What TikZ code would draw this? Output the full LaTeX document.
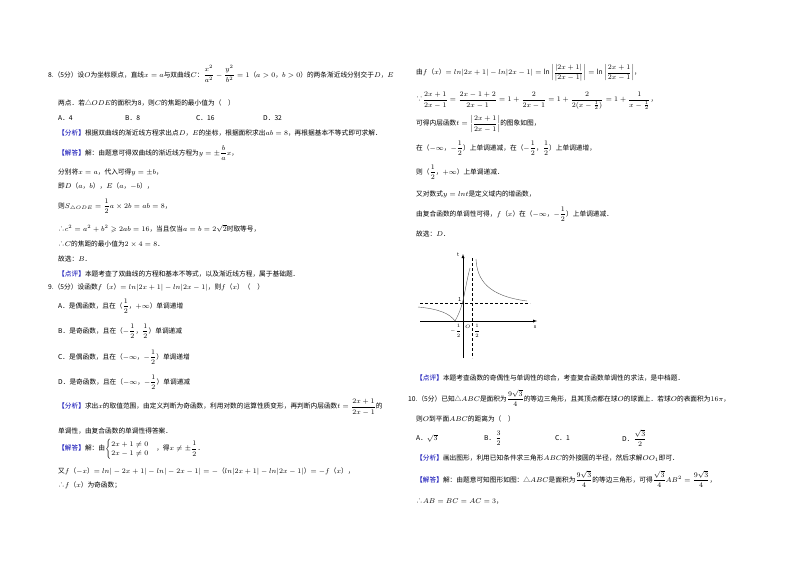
\documentclass[tikz,border=0pt]{standalone}
\usepackage{fontspec}
\usepackage{amsmath,amssymb}
\setmainfont{Noto Sans CJK SC}
\newcommand{\qf}[2]{\dfrac{#1}{#2}}
\begin{document}
\begin{tikzpicture}[x=1pt,y=-1pt,
  t/.style={anchor=west,inner sep=0pt,font=\fontsize{6.7}{8}\selectfont}]
\useasboundingbox[fill=white] (0,0) rectangle (800,565);
% left column
\node[t] (l1) at (48,74) {8.（5分）设$O$为坐标原点，直线$x=a$与双曲线$C$：$\qf{x^2}{a^2}-\qf{y^2}{b^2}=1$（$a>0$，$b>0$）的两条渐近线分别交于$D$，$E$};
\node[t] (l2) at (58,103) {两点．若△$ODE$的面积为8，则$C$的焦距的最小值为（\quad ）};
\node[t] (l3a) at (58,118) {A．4};
\node[t] (l3b) at (125,118) {B．8};
\node[t] (l3c) at (196,118) {C．16};
\node[t] (l3d) at (263,118) {D．32};
\node[t] (l4) at (58,133) {{\color{blue!70!black}【分析】}根据双曲线的渐近线方程求出点$D$，$E$的坐标，根据面积求出$ab=8$，再根据基本不等式即可求解．};
\node[t] (l5) at (58,153) {{\color{blue!70!black}【解答】}解：由题意可得双曲线的渐近线方程为$y=\pm\qf{b}{a}x$，};
\node[t] (l6) at (58,172) {分别将$x=a$，代入可得$y=\pm b$，};
\node[t] (l7) at (58,186) {即$D$（$a$，$b$），$E$（$a$，$-b$），};
\node[t] (l8) at (58,206) {则$S_{\triangle ODE}=\qf{1}{2}a\times 2b=ab=8$，};
\node[t] (l9) at (58,229) {∴$c^2=a^2+b^2\geqslant 2ab=16$，当且仅当$a=b=2\sqrt{2}$时取等号，};
\node[t] (l10) at (58,244) {∴$C$的焦距的最小值为$2\times4=8$．};
\node[t] (l11) at (58,259) {故选：$B$．};
\node[t] (l12) at (58,274) {{\color{blue!70!black}【点评】}本题考查了双曲线的方程和基本不等式，以及渐近线方程，属于基础题．};
\node[t] (l13) at (48,288) {9.（5分）设函数$f$（$x$）$=ln|2x+1|-ln|2x-1|$，则$f$（$x$）（\quad ）};
\node[t] (l14) at (58,306) {A．是偶函数，且在（$\qf12$，$+\infty$）单调递增};
\node[t] (l15) at (58,331) {B．是奇函数，且在（$-\qf12$，$\qf12$）单调递减};
\node[t] (l16) at (58,357) {C．是偶函数，且在（$-\infty$，$-\qf12$）单调递增};
\node[t] (l17) at (58,382) {D．是奇函数，且在（$-\infty$，$-\qf12$）单调递减};
\node[t] (l18) at (58,407) {{\color{blue!70!black}【分析】}求出$x$的取值范围，由定义判断为奇函数，利用对数的运算性质变形，再判断内层函数$t=\qf{2x+1}{2x-1}$的};
\node[t] (l19) at (58,431) {单调性，由复合函数的单调性得答案．};
\node[t] (l20) at (58,449) {{\color{blue!70!black}【解答】}解：由$\begin{cases}2x+1\neq0\\2x-1\neq0\end{cases}$，得$x\neq\pm\qf12$．};
\node[t] (l21) at (58,471) {又$f$（$-x$）$=ln|-2x+1|-ln|-2x-1|=-$（$ln|2x+1|-ln|2x-1|$）$=-f$（$x$），};
\node[t] (l22) at (58,485) {∴$f$（$x$）为奇函数；};
% right column
\node[t] (r1) at (416,73) {由$f$（$x$）$=ln|2x+1|-ln|2x-1|=\ln\left|\qf{|2x+1|}{|2x-1|}\right|=\ln\left|\qf{2x+1}{2x-1}\right|$，};
\node[t] (r2) at (416,101) {∵$\qf{2x+1}{2x-1}=\qf{2x-1+2}{2x-1}=1+\qf{2}{2x-1}=1+\qf{2}{2(x-\frac12)}=1+\qf{1}{x-\frac12}$，};
\node[t] (r3) at (416,124) {可得内层函数$t=\left|\qf{2x+1}{2x-1}\right|$的图象如图，};
\node[t] (r4) at (416,148) {在（$-\infty$，$-\qf12$）上单调递减，在（$-\qf12$，$\qf12$）上单调递增，};
\node[t] (r5) at (416,172) {则（$\qf12$，$+\infty$）上单调递减．};
\node[t] (r6) at (416,194) {又对数式$y=lnt$是定义域内的增函数，};
\node[t] (r7) at (416,214) {由复合函数的单调性可得，$f$（$x$）在（$-\infty$，$-\qf12$）上单调递减．};
\node[t] (r8) at (416,234) {故选：$D$．};
% graph
\coordinate (xa0) at (420,321); \coordinate (xa1) at (537,321);
\coordinate (ta0) at (463,358); \coordinate (ta1) at (463,254);
\draw[-latex,thin] (xa0) -- (xa1);
\draw[-latex,thin] (ta0) -- (ta1);
\node[font=\fontsize{5}{5}\selectfont\itshape] (xl) at (535,327) {x};
\node[font=\fontsize{5}{5}\selectfont\itshape] (tl) at (458,255) {t};
\coordinate (h0) at (420,303); \coordinate (h1) at (530,303);
\coordinate (v0) at (472,258); \coordinate (v1) at (472,358);
\draw[densely dashed,thin] (h0) -- (h1);
\draw[densely dashed,thin] (v0) -- (v1);
\draw[gray!70!black,thin] (418,307) .. controls (440,309) and (450,314) .. (455,321)
  .. controls (459,314) and (462,306) .. (464,296) .. controls (466,286) and (468,275) .. (470,268);
\draw[gray!70!black,thin] (476,259) .. controls (477,280) and (488,296) .. (527,301);
\node[t,font=\fontsize{5.5}{6}\selectfont] (one) at (458,300) {1};
\node[t,font=\fontsize{5}{6}\selectfont] (O) at (465,327) {$O$};
\node[t,font=\fontsize{5}{6}\selectfont] (mh) at (450,331) {$-\dfrac12$};
\node[t,font=\fontsize{5}{6}\selectfont] (ph) at (474,331) {$\dfrac12$};
\node[t] (r9) at (416,378) {{\color{blue!70!black}【点评】}本题考查函数的奇偶性与单调性的综合，考查复合函数单调性的求法，是中档题．};
\node[t] (r10) at (408,398) {10.（5分）已知△$ABC$是面积为$\qf{9\sqrt3}{4}$的等边三角形，且其顶点都在球$O$的球面上．若球$O$的表面积为$16\pi$，};
\node[t] (r11) at (416,419) {则$O$到平面$ABC$的距离为（\quad ）};
\node[t] (r12a) at (416,438) {A．$\sqrt3$};
\node[t] (r12b) at (484,438) {B．$\qf32$};
\node[t] (r12c) at (555,438) {C．1};
\node[t] (r12d) at (622,438) {D．$\qf{\sqrt3}{2}$};
\node[t] (r13) at (416,458) {{\color{blue!70!black}【分析】}画出图形，利用已知条件求三角形$ABC$的外接圆的半径，然后求解$OO_1$即可．};
\node[t] (r14) at (416,479) {{\color{blue!70!black}【解答】}解：由题意可知图形如图：△$ABC$是面积为$\qf{9\sqrt3}{4}$的等边三角形，可得$\qf{\sqrt3}{4}AB^2=\qf{9\sqrt3}{4}$，};
\node[t] (r15) at (416,501) {∴$AB=BC=AC=3$，};
\end{tikzpicture}
\end{document}
